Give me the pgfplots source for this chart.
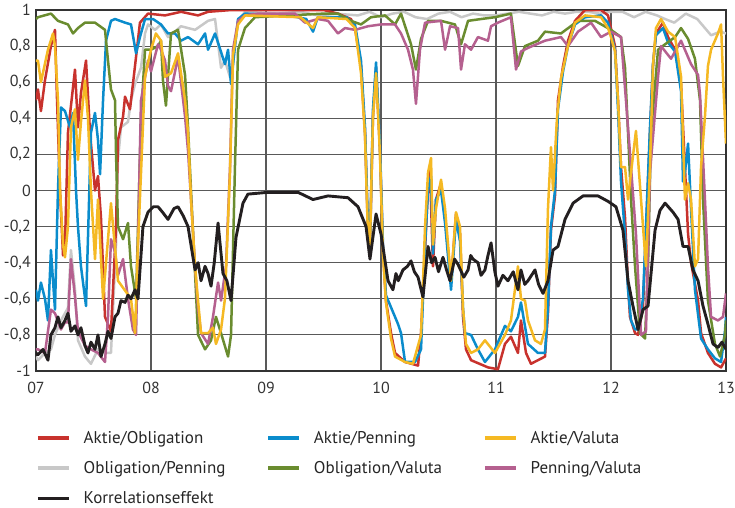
\documentclass[border=0pt]{standalone}
\usepackage{pgfplots}
\pgfplotsset{compat=1.18}
\usepackage{fontspec}
\setmainfont{PT Sans}
\definecolor{cred}{RGB}{200,50,45}
\definecolor{cblue}{RGB}{10,140,204}
\definecolor{cyellow}{RGB}{245,185,35}
\definecolor{cgrey}{RGB}{200,200,200}
\definecolor{cgreen}{RGB}{106,140,47}
\definecolor{cpink}{RGB}{181,96,143}
\definecolor{cblack}{RGB}{35,31,32}
\begin{document}
\begin{tikzpicture}
\useasboundingbox (-36pt,-136pt) rectangle (699pt,371pt);
\begin{axis}[
 scale only axis, width=690pt, height=361pt,
 xmin=7, xmax=13, ymin=-1, ymax=1,
 xtick={7,8,9,10,11,12,13}, xticklabels={07,08,09,10,11,12,13},
 ytick={-1,-0.8,-0.6,-0.4,-0.2,0,0.2,0.4,0.6,0.8,1},
 yticklabels={-1,{-0,8},{-0,6},{-0,4},{-0,2},0,{0,2},{0,4},{0,6},{0,8},1},
 grid=major, major grid style={draw=black!65, line width=1.1pt},
 axis line style={draw=black!80, line width=1.2pt},
 major tick length=0pt,
 tick label style={font=\fontsize{16}{19}\selectfont, text=black!80},
 yticklabel style={inner sep=0pt, xshift=-5pt},
 xticklabel style={inner sep=0pt, yshift=-11pt},
 legend columns=3,
 legend cell align=left,
 legend style={at={(0.0,-0.161)}, anchor=north west, draw=none, fill=none, inner sep=0pt,
   font=\fontsize{17}{20}\selectfont, text=black!85, row sep=12.5pt,
   /tikz/every odd column/.style={column sep=11pt},
   /tikz/every even column/.style={column sep=39pt}},
 legend image code/.code={\draw[#1, line width=3.5pt] (0pt,0pt) -- (31pt,0pt);},
 every axis plot/.append style={line width=2.5pt, line join=round},
]
% Obligation/Penning
\addplot[cgrey, forget plot] coordinates {
(7.000,-0.92) (7.017,-0.94) (7.078,-0.90) (7.130,-0.88) (7.165,-0.80) (7.217,-0.72) (7.278,-0.65)
(7.304,-0.33) (7.339,-0.55) (7.365,-0.83) (7.426,-0.92) (7.478,-0.96) (7.539,-0.88) (7.600,-0.90)
(7.652,-0.90) (7.696,-0.30) (7.713,0.17) (7.739,0.35) (7.800,0.38) (7.826,0.50) (7.861,0.59)
(7.913,0.68) (7.948,0.87) (7.974,0.92) (8.035,0.89) (8.087,0.92) (8.148,0.85) (8.209,0.88)
(8.261,0.91) (8.383,0.89) (8.496,0.94) (8.557,0.95) (8.609,0.68) (8.643,0.72) (8.696,0.61)
(8.757,0.94) (8.817,0.99) (9.1,0.98) (9.3,0.99) (9.45,0.97) (9.6,0.98) (9.8,0.97) (9.9,0.99) (10.0,0.96)
(10.1,0.98) (10.2,0.99) (10.3,0.96) (10.4,0.95) (10.5,0.98) (10.6,0.99) (10.7,0.96) (10.8,0.98)
(10.9,0.97) (11.0,0.97) (11.1,0.98) (11.2,0.99) (11.3,0.98) (11.4,0.97) (11.5,0.99) (11.6,0.98)
(11.7,0.99) (11.8,0.99) (11.9,0.98) (12.0,0.99) (12.1,0.99) (12.2,0.96) (12.3,0.99) (12.4,0.97)
(12.47,0.95) (12.55,0.93) (12.65,0.98) (12.75,0.95) (12.87,0.86) (12.95,0.88) (13.0,0.87)
};
% Aktie/Obligation
\addplot[cred, forget plot] coordinates {
(7.000,0.50) (7.017,0.56) (7.043,0.44) (7.078,0.61) (7.130,0.80) (7.165,0.89) (7.183,0.50)
(7.209,0.00) (7.235,-0.36) (7.252,-0.30) (7.278,0.32) (7.339,0.67) (7.365,0.35) (7.391,0.54)
(7.435,0.72) (7.470,0.32) (7.513,0.00) (7.539,0.08) (7.565,-0.15) (7.600,-0.70) (7.652,-0.78)
(7.696,-0.20) (7.713,0.28) (7.757,0.41) (7.774,0.52) (7.817,0.45) (7.843,0.59) (7.904,0.93)
(7.974,0.98) (8.122,0.97) (8.261,0.99) (8.409,0.97) (8.496,0.99) (8.70,1.00) (9.0,1.0) (9.5,1.0)
(9.626,0.98) (9.739,0.95) (9.774,0.90) (9.826,0.69) (9.861,0.32) (9.887,-0.24) (9.904,-0.32)
(9.930,0.41) (9.957,0.68) (9.991,0.22) (10.017,-0.33) (10.043,-0.61) (10.087,-0.79) (10.122,-0.90)
(10.209,-0.95) (10.322,-0.97) (10.348,-0.79) (10.383,-0.33) (10.409,0.02) (10.426,0.12)
(10.452,-0.42) (10.478,-0.05) (10.522,0.04) (10.557,-0.15) (10.609,-0.51) (10.652,-0.13)
(10.687,-0.24) (10.713,-0.70) (10.739,-0.88) (10.783,-0.94) (10.930,-0.98) (11.017,-0.99)
(11.078,-0.85) (11.130,-0.81) (11.191,-0.90) (11.217,-0.72) (11.261,-0.90) (11.304,-0.96)
(11.365,-0.94) (11.426,-0.92) (11.452,-0.68) (11.478,-0.22) (11.513,-0.03) (11.539,0.50)
(11.583,0.69) (11.626,0.83) (11.687,0.94) (11.774,1.00) (11.913,1.00) (11.974,0.97) (12.035,0.80)
(12.061,0.50) (12.087,0.13) (12.122,-0.15) (12.148,-0.52) (12.165,-0.70) (12.209,-0.79)
(12.235,-0.80) (12.278,-0.65) (12.304,-0.24) (12.339,0.32) (12.365,0.69) (12.391,0.87)
(12.452,0.93) (12.496,0.85) (12.557,0.78) (12.609,0.59) (12.643,0.13) (12.670,-0.24)
(12.696,-0.40) (12.757,-0.61) (12.783,-0.79) (12.843,-0.90) (12.904,-0.96) (12.957,-0.98)
(13.000,-0.93)
};
% Aktie/Penning
\addplot[cblue, forget plot] coordinates {
(7.000,-0.55) (7.017,-0.61) (7.043,-0.51) (7.078,-0.60) (7.104,-0.72) (7.130,-0.33) (7.148,-0.50)
(7.165,-0.66) (7.191,0.00) (7.217,0.46) (7.252,0.44) (7.296,0.35) (7.322,0.43) (7.348,0.00)
(7.365,-0.20) (7.391,-0.42) (7.435,-0.64) (7.478,0.32) (7.513,0.43) (7.539,0.28) (7.557,0.09)
(7.583,0.50) (7.609,0.83) (7.652,0.94) (7.687,0.95) (7.774,0.93) (7.826,0.92) (7.870,0.76)
(7.904,0.85) (7.948,0.95) (8.017,0.95) (8.087,0.92) (8.148,0.87) (8.209,0.87) (8.261,0.83)
(8.322,0.85) (8.409,0.81) (8.470,0.87) (8.496,0.78) (8.557,0.87) (8.643,0.70) (8.670,0.78)
(8.696,0.59) (8.730,0.80) (8.757,0.95) (8.817,0.98) (9.2,0.97) (9.35,0.95) (9.409,0.88) (9.45,0.96)
(9.70,0.96) (9.774,0.92) (9.826,0.72) (9.861,0.35) (9.887,-0.20) (9.904,-0.30) (9.930,0.45)
(9.957,0.71) (9.991,0.25) (10.017,-0.30) (10.043,-0.58) (10.148,-0.74) (10.174,-0.79)
(10.209,-0.95) (10.296,-0.95) (10.348,-0.88) (10.383,-0.30) (10.409,0.00) (10.435,0.08)
(10.452,-0.35) (10.478,-0.05) (10.522,0.00) (10.557,-0.18) (10.609,-0.55) (10.652,-0.16)
(10.687,-0.28) (10.713,-0.65) (10.730,-0.79) (10.783,-0.80) (10.843,-0.88) (10.904,-0.95)
(10.991,-0.88) (11.078,-0.75) (11.130,-0.78) (11.191,-0.70) (11.217,-0.62) (11.278,-0.85)
(11.365,-0.90) (11.426,-0.90) (11.452,-0.65) (11.478,-0.20) (11.513,0.00) (11.539,0.45)
(11.583,0.66) (11.626,0.80) (11.687,0.92) (11.774,0.96) (11.913,0.97) (11.974,0.93) (12.035,0.78)
(12.061,0.45) (12.087,0.05) (12.122,-0.25) (12.148,-0.55) (12.174,-0.72) (12.209,-0.77)
(12.235,-0.77) (12.278,-0.60) (12.304,-0.20) (12.339,0.35) (12.365,0.70) (12.391,0.86)
(12.452,0.90) (12.496,0.82) (12.557,0.77) (12.609,0.55) (12.626,0.05) (12.643,0.10) (12.670,0.26)
(12.696,-0.10) (12.730,-0.55) (12.783,-0.82) (12.843,-0.88) (12.904,-0.93) (12.957,-0.95)
(12.991,-0.78) (13.000,-0.70)
};
% Obligation/Valuta
\addplot[cgreen, forget plot] coordinates {
(7.000,0.95) (7.017,0.96) (7.130,0.98) (7.191,0.94) (7.278,0.92) (7.322,0.87) (7.365,0.90)
(7.426,0.93) (7.513,0.93) (7.600,0.89) (7.626,0.72) (7.652,0.56) (7.687,0.50) (7.696,0.20)
(7.713,-0.20) (7.757,-0.27) (7.800,-0.18) (7.826,-0.42) (7.870,-0.60) (7.913,0.40) (7.948,0.78)
(8.000,0.78) (8.061,0.80) (8.087,0.83) (8.104,0.61) (8.130,0.47) (8.174,0.87) (8.235,0.89)
(8.296,0.64) (8.322,0.35) (8.348,0.00) (8.409,-0.80) (8.470,-0.88) (8.522,-0.83) (8.565,-0.70)
(8.609,-0.79) (8.670,-0.92) (8.696,-0.80) (8.730,0.13) (8.757,0.78) (8.817,0.90) (8.904,0.96)
(9.5,0.98) (9.626,0.98) (9.739,0.94) (9.826,0.92) (9.913,0.96) (10.035,0.97) (10.122,0.92)
(10.174,0.98) (10.261,0.81) (10.304,0.67) (10.348,0.84) (10.409,0.94) (10.522,0.94) (10.643,0.92)
(10.696,0.81) (10.757,0.94) (10.870,0.95) (10.991,0.96) (11.130,0.98) (11.191,0.69) (11.252,0.80)
(11.365,0.83) (11.426,0.88) (11.565,0.87) (11.713,0.94) (11.861,0.94) (12.000,0.89) (12.087,0.85)
(12.122,0.68) (12.148,0.32) (12.174,-0.05) (12.209,-0.42) (12.252,-0.79) (12.296,-0.82)
(12.322,-0.42) (12.348,0.32) (12.409,0.78) (12.470,0.81) (12.557,0.85) (12.609,0.90) (12.670,0.84)
(12.730,0.73) (12.774,0.50) (12.800,-0.05) (12.843,-0.61) (12.904,-0.85) (12.948,-0.92)
(12.991,-0.80) (13.000,-0.72)
};
% Penning/Valuta
\addplot[cpink, forget plot] coordinates {
(7.000,-0.88) (7.017,-0.88) (7.078,-0.90) (7.130,-0.66) (7.165,-0.68) (7.217,-0.77) (7.252,-0.73)
(7.278,-0.73) (7.304,-0.38) (7.339,-0.59) (7.365,-0.78) (7.426,-0.86) (7.478,-0.88) (7.539,-0.90)
(7.600,-0.95) (7.626,-0.70) (7.652,-0.27) (7.687,-0.34) (7.713,-0.47) (7.757,-0.38) (7.800,-0.60)
(7.843,-0.77) (7.870,-0.80) (7.913,0.50) (7.974,0.72) (8.000,0.66) (8.061,0.81) (8.087,0.78)
(8.122,0.72) (8.148,0.58) (8.174,0.55) (8.235,0.74) (8.261,0.60) (8.296,0.41) (8.322,0.22)
(8.348,-0.05) (8.383,-0.42) (8.409,-0.65) (8.435,-0.79) (8.496,-0.85) (8.539,-0.70) (8.583,-0.51)
(8.609,-0.61) (8.652,-0.42) (8.687,0.13) (8.713,0.78) (8.757,0.94) (8.817,0.97) (8.930,0.98)
(9.252,0.98) (9.339,0.93) (9.452,0.95) (9.539,0.94) (9.626,0.87) (9.687,0.90) (9.774,0.89)
(9.887,0.91) (10.000,0.92) (10.122,0.92) (10.174,0.87) (10.235,0.78) (10.278,0.67) (10.304,0.48)
(10.339,0.78) (10.383,0.93) (10.522,0.94) (10.557,0.78) (10.600,0.91) (10.670,0.90) (10.696,0.67)
(10.730,0.81) (10.783,0.78) (10.843,0.85) (10.930,0.83) (10.957,0.91) (11.017,0.93) (11.130,0.96)
(11.174,0.67) (11.217,0.77) (11.278,0.79) (11.426,0.83) (11.565,0.85) (11.626,0.80) (11.713,0.88)
(11.826,0.93) (11.913,0.85) (12.000,0.88) (12.087,0.85) (12.130,0.50) (12.174,0.13) (12.217,-0.24)
(12.261,-0.80) (12.304,-0.78) (12.339,0.10) (12.409,0.63) (12.435,0.80) (12.522,0.73) (12.609,0.83)
(12.696,0.70) (12.757,0.64) (12.774,0.53) (12.817,-0.05) (12.843,-0.42) (12.870,-0.70)
(12.930,-0.72) (12.974,-0.70) (13.000,-0.57)
};
% Aktie/Valuta
\addplot[cyellow, forget plot] coordinates {
(7.000,0.72) (7.017,0.72) (7.043,0.60) (7.104,0.78) (7.148,0.87) (7.165,0.80) (7.191,0.50)
(7.209,0.00) (7.235,-0.30) (7.252,-0.37) (7.278,-0.20) (7.304,0.35) (7.339,0.45) (7.365,0.17)
(7.391,0.38) (7.426,0.61) (7.452,0.40) (7.478,0.00) (7.513,-0.38) (7.539,-0.05) (7.583,-0.60)
(7.652,-0.07) (7.713,-0.50) (7.826,-0.60) (7.861,-0.79) (7.887,-0.30) (7.948,0.63) (8.000,0.78)
(8.043,0.87) (8.087,0.83) (8.122,0.63) (8.174,0.65) (8.235,0.76) (8.296,0.50) (8.322,0.32)
(8.348,-0.05) (8.383,-0.42) (8.409,-0.61) (8.435,-0.79) (8.496,-0.79) (8.539,-0.76) (8.565,-0.85)
(8.609,-0.77) (8.643,-0.60) (8.687,0.10) (8.713,0.75) (8.757,0.92) (8.817,0.97) (9.3,0.96)
(9.409,0.90) (9.45,0.96) (9.70,0.95) (9.774,0.90) (9.826,0.65) (9.861,0.30) (9.887,-0.26)
(9.904,-0.30) (9.930,0.40) (9.957,0.65) (9.991,0.20) (10.017,-0.35) (10.043,-0.62) (10.087,-0.82)
(10.122,-0.92) (10.209,-0.95) (10.278,-0.96) (10.348,-0.80) (10.383,-0.20) (10.409,0.10)
(10.435,0.18) (10.452,-0.30) (10.478,-0.10) (10.522,0.06) (10.557,-0.10) (10.609,-0.50)
(10.652,-0.12) (10.687,-0.20) (10.713,-0.65) (10.739,-0.85) (10.783,-0.90) (10.843,-0.88)
(10.904,-0.83) (10.991,-0.90) (11.078,-0.80) (11.130,-0.72) (11.191,-0.42) (11.217,-0.60)
(11.252,-0.61) (11.278,-0.72) (11.339,-0.83) (11.391,-0.85) (11.426,-0.77) (11.452,-0.10)
(11.478,0.24) (11.496,0.00) (11.530,0.40) (11.565,0.62) (11.626,0.80) (11.687,0.93) (11.774,0.97)
(11.913,0.96) (11.974,0.90) (12.000,0.85) (12.035,0.77) (12.061,0.50) (12.087,0.13) (12.122,0.13)
(12.148,-0.05) (12.174,0.10) (12.217,0.33) (12.261,-0.05) (12.304,-0.42) (12.339,0.13)
(12.365,0.69) (12.391,0.90) (12.435,0.95) (12.496,0.88) (12.557,0.85) (12.609,0.63) (12.643,-0.05)
(12.670,0.04) (12.696,-0.05) (12.730,-0.42) (12.757,-0.38) (12.783,0.13) (12.817,0.41)
(12.843,0.69) (12.870,0.78) (12.930,0.87) (12.957,0.92) (12.974,0.63) (13.000,0.26)
};
% Korrelationseffekt
\addplot[cblack, line width=2.9pt, forget plot] coordinates {
(7.000,-0.90) (7.017,-0.91) (7.061,-0.88) (7.104,-0.94) (7.130,-0.80) (7.165,-0.76) (7.191,-0.70)
(7.217,-0.76) (7.252,-0.72) (7.278,-0.68) (7.304,-0.78) (7.339,-0.75) (7.365,-0.80) (7.391,-0.76)
(7.426,-0.86) (7.452,-0.90) (7.478,-0.84) (7.513,-0.88) (7.539,-0.80) (7.565,-0.92) (7.600,-0.85)
(7.626,-0.78) (7.652,-0.82) (7.687,-0.70) (7.713,-0.68) (7.739,-0.61) (7.774,-0.62) (7.800,-0.58)
(7.826,-0.60) (7.861,-0.55) (7.887,-0.60) (7.930,-0.20) (7.974,-0.12) (8.020,-0.09) (8.061,-0.09)
(8.100,-0.12) (8.148,-0.16) (8.200,-0.10) (8.235,-0.09) (8.280,-0.14) (8.322,-0.20) (8.383,-0.44)
(8.410,-0.40) (8.435,-0.50) (8.470,-0.42) (8.496,-0.46) (8.522,-0.53) (8.550,-0.40) (8.583,-0.18)
(8.626,-0.46) (8.660,-0.50) (8.696,-0.61) (8.739,-0.26) (8.800,-0.07) (8.843,-0.02)
(9.017,-0.01) (9.278,-0.01) (9.409,-0.05) (9.539,-0.03) (9.713,-0.04) (9.800,-0.09) (9.870,-0.20)
(9.904,-0.38) (9.957,-0.13) (10.000,-0.24) (10.061,-0.50) (10.104,-0.55) (10.130,-0.46)
(10.150,-0.50) (10.191,-0.44) (10.230,-0.42) (10.261,-0.39) (10.290,-0.45) (10.322,-0.48)
(10.365,-0.59) (10.409,-0.31) (10.440,-0.40) (10.470,-0.37) (10.500,-0.45) (10.539,-0.37)
(10.570,-0.44) (10.600,-0.50) (10.640,-0.38) (10.670,-0.41) (10.720,-0.48) (10.757,-0.44)
(10.780,-0.36) (10.800,-0.38) (10.843,-0.40) (10.870,-0.47) (10.904,-0.44) (10.930,-0.36)
(10.957,-0.29) (10.990,-0.45) (11.017,-0.53) (11.060,-0.47) (11.104,-0.50) (11.150,-0.45)
(11.191,-0.55) (11.217,-0.44) (11.250,-0.52) (11.278,-0.50) (11.339,-0.44) (11.370,-0.52)
(11.409,-0.57) (11.452,-0.50) (11.496,-0.33) (11.539,-0.31) (11.600,-0.16) (11.670,-0.07)
(11.757,-0.03) (11.887,-0.03) (11.974,-0.06) (12.043,-0.09) (12.104,-0.22) (12.148,-0.50)
(12.191,-0.64) (12.235,-0.77) (12.278,-0.66) (12.322,-0.64) (12.383,-0.22) (12.426,-0.11)
(12.470,-0.07) (12.539,-0.12) (12.583,-0.16) (12.626,-0.31) (12.670,-0.31) (12.713,-0.44)
(12.757,-0.50) (12.800,-0.64) (12.843,-0.74) (12.887,-0.85) (12.930,-0.87) (12.965,-0.84)
(13.000,-0.88)
};
\addlegendimage{cred}\addlegendentry{Aktie/Obligation}
\addlegendimage{cblue}\addlegendentry{Aktie/Penning}
\addlegendimage{cyellow}\addlegendentry{Aktie/Valuta}
\addlegendimage{cgrey}\addlegendentry{Obligation/Penning}
\addlegendimage{cgreen}\addlegendentry{Obligation/Valuta}
\addlegendimage{cpink}\addlegendentry{Penning/Valuta}
\addlegendimage{cblack}\addlegendentry{Korrelationseffekt}
\end{axis}
\end{tikzpicture}
\end{document}
